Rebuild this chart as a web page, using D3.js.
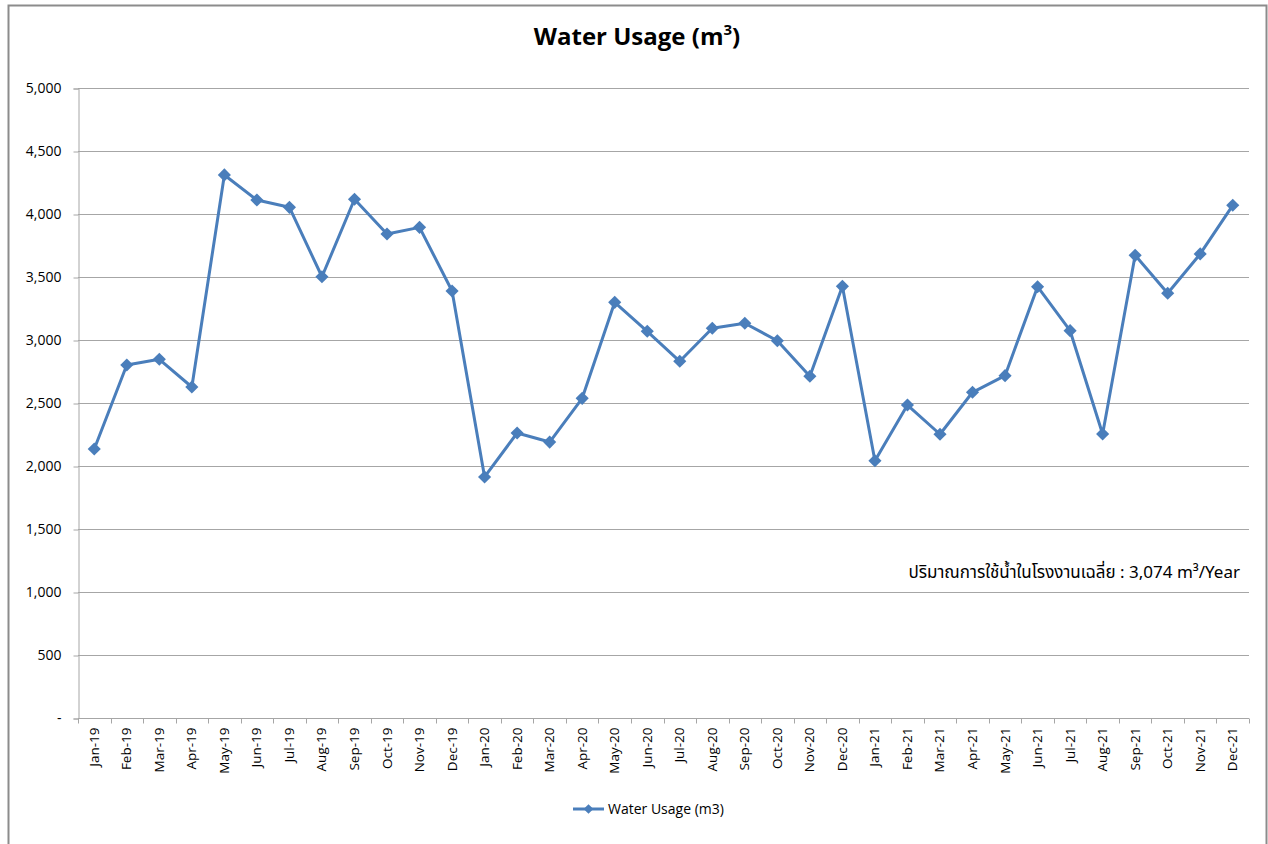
<!DOCTYPE html>
<html>
<head>
<meta charset="utf-8">
<script src="https://cdn.jsdelivr.net/npm/d3@7"></script>
<style>
  body { margin: 0; background: #fff; }
  svg { display: block; font-family: "Open Sans", "Noto Sans", sans-serif; }
</style>
</head>
<body>
<svg id="chart" width="1268" height="844"></svg>
<script>
var months = ["Jan-19","Feb-19","Mar-19","Apr-19","May-19","Jun-19","Jul-19","Aug-19","Sep-19","Oct-19","Nov-19","Dec-19",
  "Jan-20","Feb-20","Mar-20","Apr-20","May-20","Jun-20","Jul-20","Aug-20","Sep-20","Oct-20","Nov-20","Dec-20",
  "Jan-21","Feb-21","Mar-21","Apr-21","May-21","Jun-21","Jul-21","Aug-21","Sep-21","Oct-21","Nov-21","Dec-21"];
var usage = [2135, 2802, 2847, 2627, 4310, 4111, 4053, 3502, 4117, 3841, 3894, 3389,
  1913, 2262, 2190, 2537, 3299, 3069, 2831, 3093, 3133, 2994, 2712, 3426,
  2042, 2484, 2252, 2585, 2717, 3423, 3074, 2254, 3672, 3371, 3683, 4069];
var yTicks = [0, 500, 1000, 1500, 2000, 2500, 3000, 3500, 4000, 4500, 5000];
var seriesName = "Water Usage (m3)";
var avgNote = "ปริมาณการใช้น้ำในโรงงานเฉลี่ย : 3,074 m³/Year";

(function() {
  var svg = d3.select('#chart');
  var blue = '#4A7EBB';
  var grid = '#a6a6a6';

  // outer frame
  svg.append('rect')
    .attr('x', 8.5).attr('y', 5.5)
    .attr('width', 1258).attr('height', 850)
    .attr('fill', 'none').attr('stroke', '#8c8c8c').attr('stroke-width', 2);

  var plotLeft = 78, plotRight = 1249, plotTop = 88, plotBottom = 718;

  var x = d3.scaleBand().domain(months).range([plotLeft, plotRight]);
  var y = d3.scaleLinear().domain([0, 5000]).range([plotBottom, plotTop]);

  // title
  var title = svg.append('text')
    .attr('x', 637).attr('y', 45)
    .attr('text-anchor', 'middle')
    .attr('font-size', 24).attr('font-weight', 'bold')
    .attr('fill', '#000');
  title.append('tspan').text('Water Usage (m');
  title.append('tspan').attr('font-size', 15).attr('dy', -10).text('3');
  title.append('tspan').attr('dy', 10).text(')');

  // gridlines
  svg.append('g').selectAll('line')
    .data(yTicks.filter(function(d) { return d > 0; }))
    .enter().append('line')
    .attr('x1', plotLeft).attr('x2', plotRight)
    .attr('y1', function(d) { return y(d) + 0.5; })
    .attr('y2', function(d) { return y(d) + 0.5; })
    .attr('stroke', grid).attr('stroke-width', 1);

  // y axis
  var yAxis = d3.axisLeft(y)
    .tickValues(yTicks)
    .tickSize(5)
    .tickPadding(12)
    .tickFormat(function(d) { return d === 0 ? '-' : d3.format(',')(d); });
  var gy = svg.append('g').attr('transform', 'translate(' + (plotLeft + 0.5) + ',0.5)').call(yAxis);
  gy.select('.domain').attr('stroke', grid);
  gy.selectAll('.tick line').attr('stroke', grid);
  gy.selectAll('.tick text').attr('font-size', 14).attr('fill', '#000')
    .attr('font-family', '"Open Sans", sans-serif');

  // x axis: ticks at band boundaries
  var gx = svg.append('g').attr('transform', 'translate(0,' + (plotBottom + 0.5) + ')');
  gx.append('line').attr('x1', plotLeft).attr('x2', plotRight).attr('stroke', grid);
  var bounds = months.map(function(m) { return x(m); }).concat([plotRight]);
  gx.selectAll('line.tk').data(bounds).enter().append('line')
    .attr('class', 'tk')
    .attr('x1', function(d) { return Math.round(d) + 0.5; })
    .attr('x2', function(d) { return Math.round(d) + 0.5; })
    .attr('y1', 0).attr('y2', 5)
    .attr('stroke', grid);
  gx.selectAll('text.lbl').data(months).enter().append('text')
    .attr('class', 'lbl')
    .attr('transform', function(d) {
      return 'translate(' + (x(d) + x.bandwidth() / 2 + 4.5) + ',9) rotate(-90)';
    })
    .attr('text-anchor', 'end')
    .attr('font-size', 13.5).attr('fill', '#000')
    .text(function(d) { return d; });

  // series
  var cx = function(i) { return x(months[i]) + x.bandwidth() / 2; };
  var line = d3.line()
    .x(function(d, i) { return cx(i); })
    .y(function(d) { return y(d); });

  svg.append('path').datum(usage)
    .attr('d', line)
    .attr('fill', 'none').attr('stroke', blue)
    .attr('stroke-width', 3).attr('stroke-linejoin', 'round');

  var diamond = d3.symbol().type(d3.symbolDiamond2).size(110);
  svg.append('g').selectAll('path').data(usage).enter().append('path')
    .attr('d', diamond)
    .attr('transform', function(d, i) { return 'translate(' + cx(i) + ',' + y(d) + ')'; })
    .attr('fill', blue);

  // average note
  svg.append('text')
    .attr('x', 1240).attr('y', 578)
    .attr('text-anchor', 'end')
    .attr('font-size', 17).attr('fill', '#000')
    .attr('font-family', '"Noto Sans Thai", "Noto Sans", "Open Sans", sans-serif')
    .text(avgNote);

  // legend
  var lg = svg.append('g').attr('transform', 'translate(573,809)');
  lg.append('line').attr('x1', 0).attr('x2', 31).attr('y1', 0).attr('y2', 0)
    .attr('stroke', blue).attr('stroke-width', 3);
  lg.append('path').attr('d', d3.symbol().type(d3.symbolDiamond2).size(60))
    .attr('transform', 'translate(15.5,0)').attr('fill', blue);
  lg.append('text').attr('x', 35).attr('y', 5)
    .attr('font-size', 14).attr('fill', '#000')
    .text(seriesName);
})();
</script>
</body>
</html>
